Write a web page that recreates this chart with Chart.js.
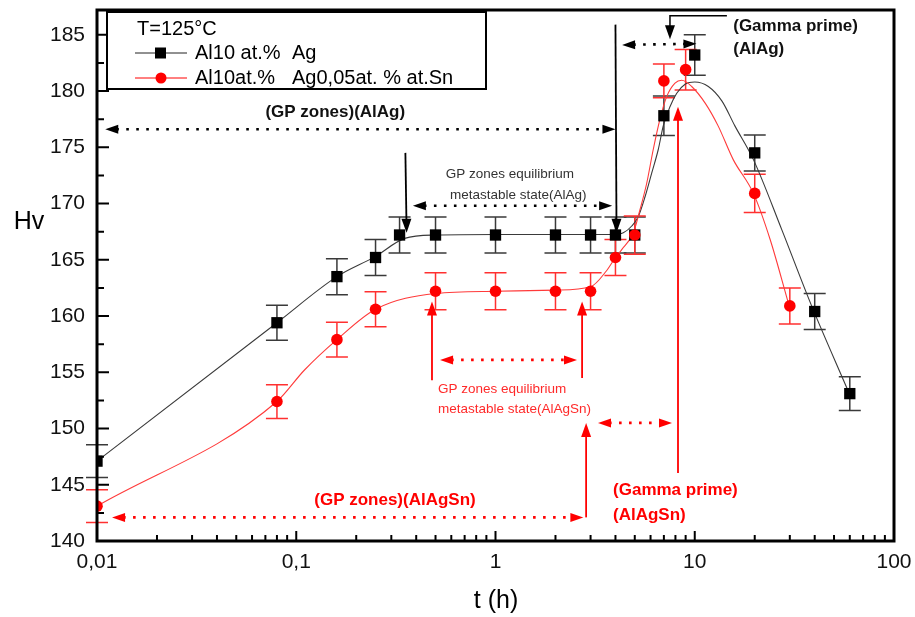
<!DOCTYPE html>
<html>
<head>
<meta charset="utf-8">
<script src="https://cdn.jsdelivr.net/npm/chart.js@4.4.1/dist/chart.umd.min.js"></script>
<style>
  html, body { margin: 0; padding: 0; background: #fff; }
</style>
</head>
<body>
<canvas id="hvChart" width="915" height="617"></canvas>
<script>
// Hardness vs ageing time at 125 °C
const agTime = [0.01, 0.08, 0.16, 0.25, 0.33, 0.5, 1, 2, 3, 4, 5, 7, 10, 20, 40, 60];
const agHv   = [147.1, 159.4, 163.5, 165.2, 167.2, 167.2, 167.2, 167.2, 167.2, 167.2, 167.2, 177.8, 183.2, 174.5, 160.4, 153.1];
const agErr  = [1.45, 1.55, 1.6, 1.6, 1.6, 1.6, 1.6, 1.6, 1.6, 1.6, 1.6, 1.75, 1.8, 1.6, 1.6, 1.5];

const snTime = [0.01, 0.08, 0.16, 0.25, 0.5, 1, 2, 3, 4, 5, 7, 9, 20, 30];
const snHv   = [143.1, 152.4, 157.9, 160.6, 162.2, 162.2, 162.2, 162.2, 165.2, 167.2, 180.9, 181.9, 170.9, 160.9];
const snErr  = [1.45, 1.5, 1.55, 1.55, 1.65, 1.65, 1.65, 1.65, 1.6, 1.7, 1.5, 1.8, 1.7, 1.6];

// fitted curves
const agFitTime = [0.01, 0.08, 0.16, 0.25, 0.35, 0.5, 1, 3.9, 4.38, 4.83, 5.21, 5.63, 6.08, 6.56, 6.95, 7.51, 8.12, 8.94, 10.0, 11.7, 13.7, 15.9, 19.7, 27.3, 38.6, 59];
const agFitHv   = [147.1, 159.4, 163.5, 165.3, 166.9, 167.2, 167.25, 167.25, 167.4, 168.0, 168.85, 170.6, 172.7, 174.8, 176.9, 178.6, 179.8, 180.6, 180.8, 180.4, 179.1, 176.9, 173.9, 167.7, 160.9, 153.3];

const snFitTime = [0.01, 0.08, 0.11, 0.16, 0.25, 0.5, 1, 2, 3, 3.6, 4, 4.3, 4.92, 5.31, 5.74, 6.19, 6.69, 7.23, 7.96, 8.6, 9.65, 11.3, 13.1, 15.6, 19.7, 23.9, 29.5];
const snFitHv   = [143.1, 152.4, 155.2, 157.9, 160.6, 162.0, 162.2, 162.3, 162.6, 164.0, 165.2, 165.9, 167.4, 169.45, 171.8, 174.8, 177.5, 179.5, 180.7, 180.95, 180.4, 178.9, 176.9, 173.9, 170.9, 166.8, 161.15];

const xTickValues = [0.01, 0.1, 1, 10, 100];
const yTickValues = [140, 145, 150, 155, 160, 165, 170, 175, 180, 185];

const FONT = '"Liberation Sans", Arial, sans-serif';
const RED = '#ff0000';

const toXY = (xs, ys) => xs.map((x, i) => ({ x: x, y: ys[i] }));

// arrows & notes, placed in (t, Hv) units
const notes = [
  { text: '(GP zones)(AlAg)', t: 0.157, v: 178.1, align: 'center', bold: true, size: 17, color: '#111' },
  { text: 'GP zones equilibrium', t: 1.18, v: 172.6, align: 'center', size: 13.5, color: '#333' },
  { text: 'metastable state(AlAg)', t: 1.3, v: 170.75, align: 'center', size: 13.5, color: '#333' },
  { text: '(Gamma prime)', t: 15.6, v: 185.75, align: 'left', bold: true, size: 17, color: '#111' },
  { text: '(AlAg)', t: 15.6, v: 183.7, align: 'left', bold: true, size: 17, color: '#111' },
  { text: 'GP zones equilibrium', t: 0.514, v: 153.45, align: 'left', size: 13.5, color: '#ff2a2a' },
  { text: 'metastable state(AlAgSn)', t: 0.514, v: 151.7, align: 'left', size: 13.5, color: '#ff2a2a' },
  { text: '(Gamma prime)', t: 3.89, v: 144.55, align: 'left', bold: true, size: 17, color: RED },
  { text: '(AlAgSn)', t: 3.89, v: 142.3, align: 'left', bold: true, size: 17, color: RED },
  { text: '(GP zones)(AlAgSn)', t: 0.313, v: 143.65, align: 'center', bold: true, size: 17, color: RED }
];

const arrows = [
  // black
  { from: [0.011, 176.6], to: [4.0, 176.6], color: '#000', dotted: true, start: true },
  { from: [0.353, 174.5], to: [0.358, 167.4], color: '#000', width: 1.8 },
  { from: [4.0, 185.9], to: [4.05, 167.4], color: '#000', width: 1.8 },
  { from: [0.385, 169.8], to: [3.85, 169.8], color: '#000', dotted: true, start: true },
  { from: [4.32, 184.1], to: [10.2, 184.2], color: '#000', dotted: true, start: true },
  { from: [14.5, 186.7], via: [7.51, 186.7], to: [7.51, 184.6], color: '#000', width: 1.5 },
  // red
  { from: [0.48, 154.3], to: [0.48, 161.3], color: RED, width: 1.8 },
  { from: [2.72, 154.5], to: [2.72, 161.3], color: RED, width: 1.8 },
  { from: [0.527, 156.1], to: [2.565, 156.1], color: RED, dotted: true, start: true },
  { from: [2.85, 142.1], to: [2.85, 150.5], color: RED, width: 1.8 },
  { from: [3.27, 150.5], to: [7.69, 150.5], color: RED, dotted: true, start: true },
  { from: [8.24, 146.05], to: [8.24, 178.6], color: RED, width: 1.8 },
  { from: [0.0119, 142.1], to: [2.76, 142.1], color: RED, dotted: true, start: true }
];

function head(ctx, x, y, ang, len, half) {
  ctx.save();
  ctx.translate(x, y);
  ctx.rotate(ang);
  ctx.beginPath();
  ctx.moveTo(0, 0);
  ctx.lineTo(-len, -half);
  ctx.lineTo(-len, half);
  ctx.closePath();
  ctx.fill();
  ctx.restore();
}

function drawArrow(ctx, a, X, Y) {
  const len = a.dotted ? 13 : 14;
  const half = a.dotted ? 4.5 : 5;
  let p1 = { x: X(a.from[0]), y: Y(a.from[1]) };
  const p2 = { x: X(a.to[0]), y: Y(a.to[1]) };
  ctx.save();
  ctx.strokeStyle = a.color;
  ctx.fillStyle = a.color;
  ctx.lineWidth = a.dotted ? 2.6 : (a.width || 1.5);
  ctx.setLineDash(a.dotted ? [2.6, 7.4] : []);
  ctx.beginPath();
  if (a.via) {
    ctx.moveTo(p1.x, p1.y);
    p1 = { x: X(a.via[0]), y: Y(a.via[1]) };
    ctx.lineTo(p1.x, p1.y);
  }
  const ang = Math.atan2(p2.y - p1.y, p2.x - p1.x);
  const ux = Math.cos(ang), uy = Math.sin(ang);
  const s = a.start ? len - 2 : 0;
  if (!a.via) ctx.moveTo(p1.x + ux * s, p1.y + uy * s);
  ctx.lineTo(p2.x - ux * (len - 2), p2.y - uy * (len - 2));
  ctx.stroke();
  ctx.setLineDash([]);
  head(ctx, p2.x, p2.y, ang, len, half);
  if (a.start) head(ctx, p1.x, p1.y, ang + Math.PI, len, half);
  ctx.restore();
}

const hvPlugin = {
  id: 'hvDecor',
  beforeDatasetsDraw(chart) {
    const ctx = chart.ctx;
    const xs = chart.scales.x, ys = chart.scales.y;
    const bars = [
      [agTime, agHv, agErr, '#3a3a3a'],
      [snTime, snHv, snErr, '#ff3030']
    ];
    ctx.save();
    ctx.lineWidth = 1.5;
    bars.forEach(([ts, vs, es, col]) => {
      ctx.strokeStyle = col;
      ts.forEach((t, i) => {
        const x = xs.getPixelForValue(t);
        const yTop = ys.getPixelForValue(vs[i] + es[i]);
        const yBot = ys.getPixelForValue(vs[i] - es[i]);
        ctx.beginPath();
        ctx.moveTo(x, yTop); ctx.lineTo(x, yBot);
        ctx.moveTo(x - 11, yTop); ctx.lineTo(x + 11, yTop);
        ctx.moveTo(x - 11, yBot); ctx.lineTo(x + 11, yBot);
        ctx.stroke();
      });
    });
    ctx.restore();
  },
  afterDatasetsDraw(chart) {
    const ctx = chart.ctx;
    const area = chart.chartArea;
    const xs = chart.scales.x, ys = chart.scales.y;
    const X = t => xs.getPixelForValue(t);
    const Y = v => ys.getPixelForValue(v);

    // arrows and notes
    arrows.forEach(a => drawArrow(ctx, a, X, Y));
    ctx.save();
    ctx.textBaseline = 'middle';
    notes.forEach(n => {
      ctx.font = (n.bold ? 'bold ' : '') + n.size + 'px ' + FONT;
      ctx.fillStyle = n.color;
      ctx.textAlign = n.align;
      ctx.fillText(n.text, X(n.t), Y(n.v));
    });
    ctx.restore();

    // inward ticks
    ctx.save();
    ctx.strokeStyle = '#000';
    ctx.lineWidth = 2;
    ctx.beginPath();
    for (let d = -2; d < 2; d++) {
      for (let m = 1; m <= 9; m++) {
        const x = X(m * Math.pow(10, d));
        const l = m === 1 ? 10 : 6;
        ctx.moveTo(x, area.bottom); ctx.lineTo(x, area.bottom - l);
      }
    }
    for (let v = 140; v <= 187; v += 2.5) {
      const y = Y(v);
      const l = v % 5 === 0 ? 12 : 7;
      ctx.moveTo(area.left, y); ctx.lineTo(area.left + l, y);
    }
    ctx.stroke();

    // frame
    ctx.lineWidth = 3;
    ctx.strokeRect(area.left, area.top, area.right - area.left, area.bottom - area.top);
    ctx.restore();

    // legend box
    const lx = area.left + 10, ly = area.top + 2;
    ctx.save();
    ctx.fillStyle = '#fff';
    ctx.fillRect(lx, ly, 379, 77);
    ctx.lineWidth = 2;
    ctx.strokeStyle = '#000';
    ctx.strokeRect(lx, ly, 379, 77);
    ctx.font = '20px ' + FONT;
    ctx.textBaseline = 'middle';
    ctx.fillStyle = '#000';
    ctx.fillText('T=125°C', lx + 30, ly + 17);
    const rows = [
      { y: ly + 41, col: '#222', mark: 'rect', a: 'Al10 at.%', b: 'Ag' },
      { y: ly + 66, col: RED, mark: 'circle', a: 'Al10at.%', b: 'Ag0,05at. % at.Sn' }
    ];
    rows.forEach(r => {
      ctx.strokeStyle = r.col;
      ctx.lineWidth = 1;
      ctx.beginPath();
      ctx.moveTo(lx + 28, r.y); ctx.lineTo(lx + 80, r.y);
      ctx.stroke();
      ctx.fillStyle = r.mark === 'rect' ? '#000' : RED;
      if (r.mark === 'rect') {
        ctx.fillRect(lx + 48, r.y - 5.5, 11, 11);
      } else {
        ctx.beginPath();
        ctx.arc(lx + 54, r.y, 5.5, 0, Math.PI * 2);
        ctx.fill();
      }
      ctx.fillStyle = '#000';
      ctx.fillText(r.a, lx + 88, r.y);
      ctx.fillText(r.b, lx + 185, r.y);
    });
    ctx.restore();

    // axis titles
    ctx.save();
    ctx.fillStyle = '#000';
    ctx.font = '25px ' + FONT;
    ctx.textAlign = 'center';
    ctx.textBaseline = 'middle';
    ctx.fillText('Hv', 29, 222);
    ctx.fillText('t (h)', 496, 601);
    ctx.restore();
  }
};

const chart = new Chart(document.getElementById('hvChart'), {
  type: 'scatter',
  data: {
    datasets: [
      {
        label: 'Al10 at.% Ag fit',
        data: toXY(agFitTime, agFitHv),
        showLine: true,
        borderColor: '#3a3a3a',
        borderWidth: 1.1,
        pointRadius: 0,
        cubicInterpolationMode: 'monotone',
        order: 4
      },
      {
        label: 'Al10at.% Ag0,05at.% Sn fit',
        data: toXY(snFitTime, snFitHv),
        showLine: true,
        borderColor: '#ff3a3a',
        borderWidth: 1.1,
        pointRadius: 0,
        cubicInterpolationMode: 'monotone',
        order: 3
      },
      {
        label: 'Al10 at.% Ag',
        data: toXY(agTime, agHv),
        pointStyle: 'rect',
        pointRadius: 8,
        backgroundColor: '#000',
        borderColor: '#000',
        borderWidth: 0,
        order: 2
      },
      {
        label: 'Al10at.% Ag0,05at. % at.Sn',
        data: toXY(snTime, snHv),
        pointStyle: 'circle',
        pointRadius: 5.8,
        backgroundColor: RED,
        borderColor: RED,
        borderWidth: 0,
        order: 1
      }
    ]
  },
  options: {
    responsive: false,
    animation: false,
    events: [],
    layout: { padding: { top: 10, right: 21, left: 0, bottom: 0 } },
    plugins: { legend: { display: false }, tooltip: { enabled: false } },
    scales: {
      x: {
        type: 'logarithmic',
        min: 0.01,
        max: 100,
        grid: { display: false },
        border: { display: false },
        afterBuildTicks: s => { s.ticks = xTickValues.map(v => ({ value: v })); },
        afterFit: s => { s.height = 76; s.paddingLeft = 0; s.paddingRight = 0; },
        ticks: {
          font: { family: FONT, size: 21 },
          color: '#111',
          padding: 1,
          maxRotation: 0,
          autoSkip: false,
          callback: v => String(v).replace('.', ',')
        }
      },
      y: {
        min: 140,
        max: 187.2,
        grid: { display: false },
        border: { display: false },
        afterBuildTicks: s => { s.ticks = yTickValues.map(v => ({ value: v })); },
        afterFit: s => { s.width = 97; s.paddingTop = 0; s.paddingBottom = 0; },
        ticks: {
          font: { family: FONT, size: 21 },
          color: '#111',
          padding: 4,
          callback: v => String(v)
        }
      }
    }
  },
  plugins: [hvPlugin]
});
</script>
</body>
</html>
